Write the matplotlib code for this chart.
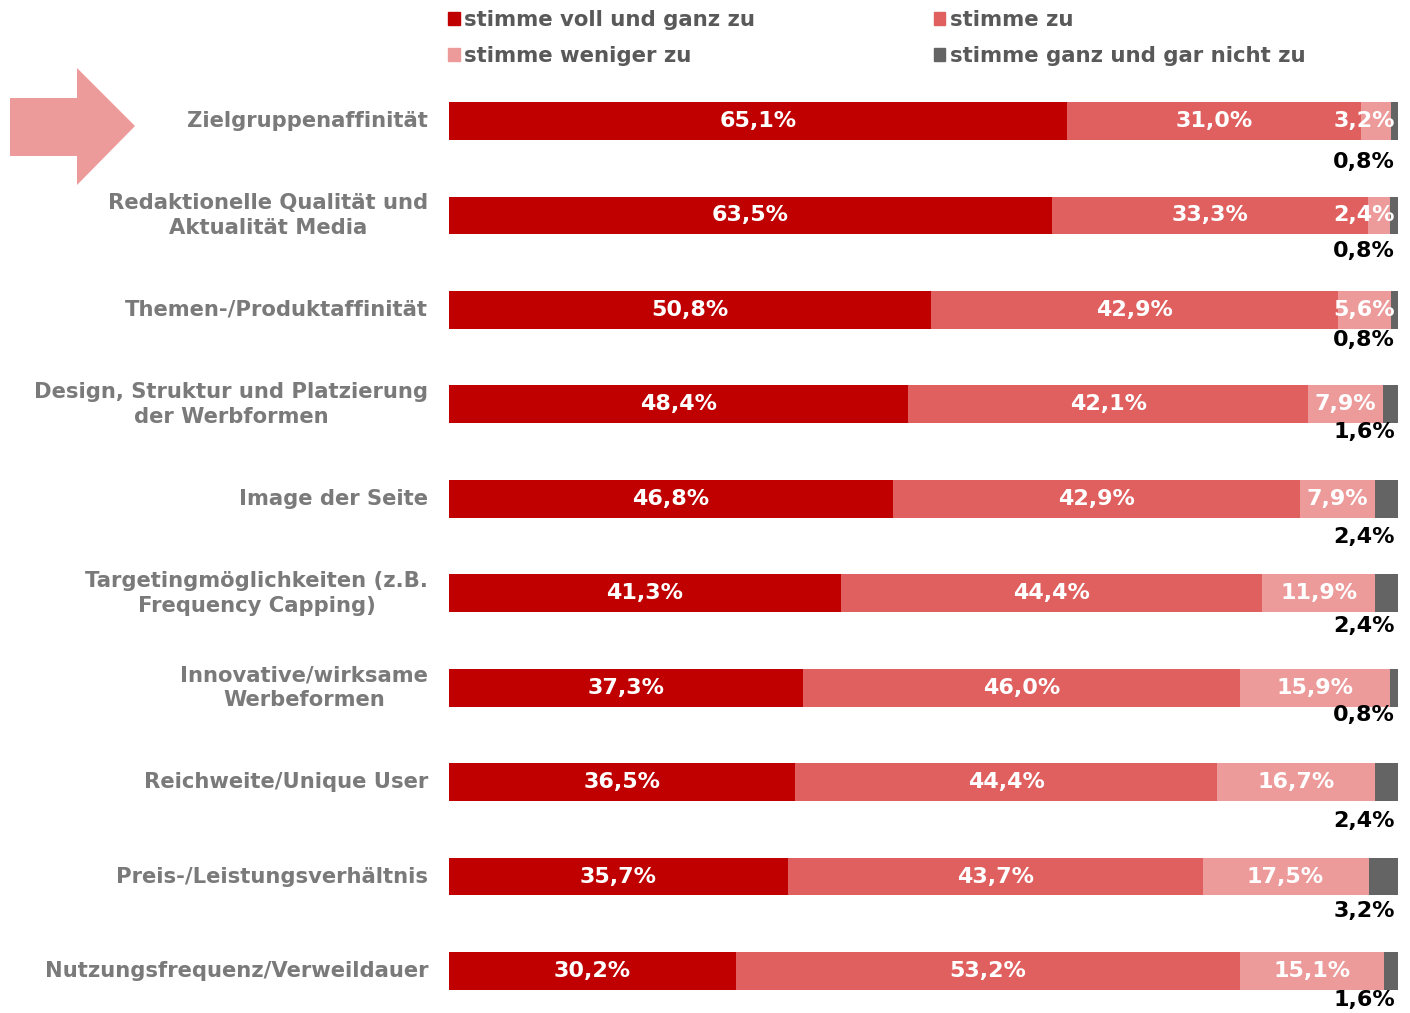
import matplotlib
matplotlib.use("Agg")
from matplotlib import pyplot as plt
from matplotlib.patches import Polygon, Patch
import numpy as np

# daten
kategorien = [
    "Zielgruppenaffinität",
    "Redaktionelle Qualität und\nAktualität Media",
    "Themen-/Produktaffinität",
    "Design, Struktur und Platzierung\nder Werbformen",
    "Image der Seite",
    "Targetingmöglichkeiten (z.B.\nFrequency Capping)",
    "Innovative/wirksame\nWerbeformen",
    "Reichweite/Unique User",
    "Preis-/Leistungsverhältnis",
    "Nutzungsfrequenz/Verweildauer",
]
voll_ganz = [65.1, 63.5, 50.8, 48.4, 46.8, 41.3, 37.3, 36.5, 35.7, 30.2]
zu = [31.0, 33.3, 42.9, 42.1, 42.9, 44.4, 46.0, 44.4, 43.7, 53.2]
weniger = [3.2, 2.4, 5.6, 7.9, 7.9, 11.9, 15.9, 16.7, 17.5, 15.1]
gar_nicht = [0.8, 0.8, 0.8, 1.6, 2.4, 2.4, 0.8, 2.4, 3.2, 1.6]
serien_namen = ["stimme voll und ganz zu", "stimme zu",
                "stimme weniger zu", "stimme ganz und gar nicht zu"]
farben = ["#c00000", "#e06060", "#ec9a9a", "#646464"]

# versatz der kleinen Beschriftungen unter dem Balken (wie im Original)
label_versatz = [0.43, 0.38, 0.32, 0.29, 0.40, 0.35, 0.29, 0.41, 0.37, 0.31]

W, H = 1410, 1013
fig = plt.figure(figsize=(W / 100, H / 100), dpi=100)
plt.rcParams['font.family'] = ['DejaVu Sans']

# achse: y-Positionen so gewählt, dass die Balken wie im Original liegen
ax = fig.add_axes([449 / W, 0, (1398 - 449) / W, (H - 74) / H])
y = np.arange(len(kategorien))
ax.set_ylim(9.445, -0.498)
ax.set_xlim(0, 100)
ax.axis("off")

werte = [voll_ganz, zu, weniger, gar_nicht]
links = np.zeros(len(kategorien))
for i, (serie, farbe) in enumerate(zip(werte, farben)):
    serie = np.array(serie)
    ax.barh(y, serie, left=links, height=0.40, color=farbe, linewidth=0)
    if i < 3:
        for yy, l, v in zip(y, links, serie):
            txt = f"{v:.1f}%".replace(".", ",")
            if v < 6:
                ax.text(99.7, yy, txt, ha="right", va="center", color="white",
                        fontsize=16, fontweight="bold")
            else:
                ax.text(l + v / 2, yy, txt, ha="center", va="center",
                        color="white", fontsize=16, fontweight="bold")
    else:
        for yy, v, d in zip(y, serie, label_versatz):
            txt = f"{v:.1f}%".replace(".", ",")
            ax.text(99.7, yy + d, txt, ha="right", va="center",
                    color="black", fontsize=16, fontweight="bold", clip_on=False)
    links = links + serie

# kategorien links
for yy, k in zip(y, kategorien):
    ax.text(-2.2, yy, k, ha="right", va="center", multialignment="center",
            color="#7a7a7a", fontsize=15.2, fontweight="bold", linespacing=1.3)

# legende
handles = [Patch(color=c) for c in farben]
reihenfolge = [0, 2, 1, 3]
fig.legend([handles[i] for i in reihenfolge], [serien_namen[i] for i in reihenfolge],
           ncol=2, loc="upper left", bbox_to_anchor=(429 / W, 1.009),
           frameon=False, handlelength=0.55, handleheight=0.55, handletextpad=0.2,
           columnspacing=8.4, labelspacing=0.75,
           prop={"weight": "bold", "size": 15.3}, labelcolor="#595959")

# pfeil
pfeil = np.array([[10, 98], [77, 98], [77, 68], [135, 126], [77, 185],
                  [77, 156], [10, 156]], dtype=float)
pfeil[:, 0] /= W
pfeil[:, 1] = 1 - pfeil[:, 1] / H
fig.patches.append(Polygon(pfeil, closed=True, transform=fig.transFigure,
                           color="#ec9a9a", linewidth=0))

fig.savefig("out.png", dpi=100)
